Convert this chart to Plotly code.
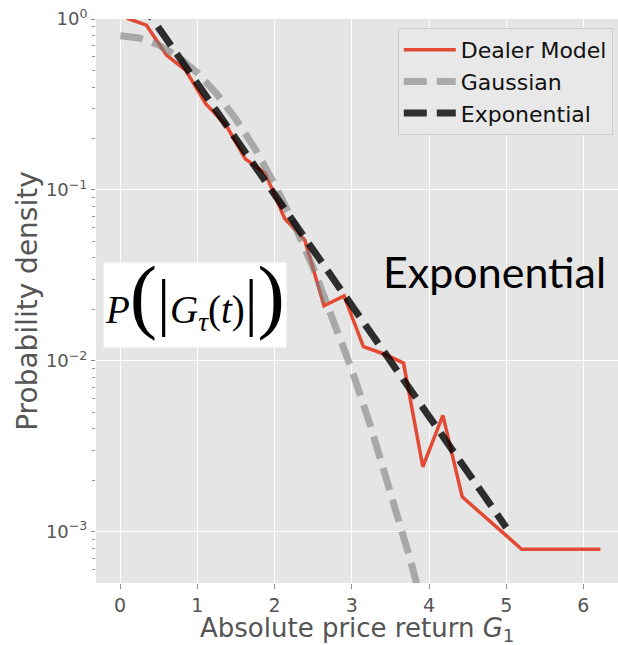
import plotly.graph_objects as go

# Dealer model: histogram of |G_1| (bin centres, densities)
dealer_x = [0.09, 0.34, 0.60, 0.85, 1.11, 1.37, 1.62, 1.88, 2.13, 2.39,
            2.64, 2.90, 3.15, 3.41, 3.67, 3.92, 4.18, 4.43, 5.20, 6.22]
dealer_y = [1.01, 0.92, 0.615, 0.50, 0.318, 0.24, 0.152, 0.125, 0.068, 0.051,
            0.021, 0.024, 0.0121, 0.0110, 0.0097, 0.0024, 0.0048, 0.0016,
            0.00079, 0.00079]

# Gaussian reference curve
gauss_x = [0.0, 0.25, 0.5, 0.75, 1.0, 1.25, 1.5, 1.75, 2.0, 2.25, 2.5,
           2.75, 3.0, 3.25, 3.5, 3.75, 4.0]
gauss_y = [0.798, 0.774, 0.704, 0.602, 0.484, 0.365, 0.259, 0.173, 0.108,
           0.0635, 0.0351, 0.0182, 0.00887, 0.00406, 0.00175, 0.000705,
           0.000268]

# Exponential reference curve
expo_x = [0, 1, 2, 3, 4, 5]
expo_y = [1.87, 0.42, 0.094, 0.0211, 0.00474, 0.00106]

x_ticks = [0, 1, 2, 3, 4, 5, 6]
y_ticks = [1, 0.1, 0.01, 0.001]
y_tick_text = ["10<sup>0</sup>", "10<sup>\u22121</sup>",
               "10<sup>\u22122</sup>", "10<sup>\u22123</sup>"]
y_minor = [m * 10.0 ** e for e in range(-4, 0) for m in range(2, 10)]

fig = go.Figure()
fig.add_trace(go.Scatter(x=dealer_x, y=dealer_y, mode="lines",
                         name="Dealer Model",
                         line=dict(color="#E24A33", width=3.5)))
fig.add_trace(go.Scatter(x=gauss_x, y=gauss_y, mode="lines", name="Gaussian",
                         opacity=0.6,
                         line=dict(color="#808080", width=7,
                                   dash="23px,10px")))
fig.add_trace(go.Scatter(x=expo_x, y=expo_y, mode="lines", name="Exponential",
                         opacity=0.8,
                         line=dict(color="#000000", width=7,
                                   dash="23px,10px")))

fig.update_layout(
    width=618, height=645,
    margin=dict(l=96, r=0, t=19, b=62),
    paper_bgcolor="white", plot_bgcolor="#E5E5E5",
    font=dict(family="DejaVu Sans", color="#555555"),
    legend=dict(x=0.99, y=0.984, xanchor="right", yanchor="top",
                bgcolor="#E8E8E8", bordercolor="#CCCCCC", borderwidth=1,
                font=dict(size=22, color="#111111", family="DejaVu Sans"),
                itemwidth=52, tracegroupgap=0),
)

fig.update_xaxes(
    range=[-0.313, 6.448], tickvals=x_ticks, ticks="outside", ticklen=5,
    tickcolor="#888888", tickfont=dict(size=19, color="#555555"),
    showgrid=True, gridcolor="white", gridwidth=1.2,
    zeroline=False, showline=False,
)
fig.update_yaxes(
    type="log", range=[-3.30, 0], tickvals=y_ticks, ticktext=y_tick_text,
    ticks="outside", ticklen=4, tickcolor="#888888",
    tickfont=dict(size=18, color="#555555"),
    showgrid=True, gridcolor="white", gridwidth=1.2,
    zeroline=False, showline=False,
    minor=dict(tickvals=y_minor, ticks="outside", ticklen=3,
               tickcolor="#999999", showgrid=False),
    title=dict(text="Probability density",
               font=dict(size=28, color="#555555"), standoff=0),
)

# x-axis title
fig.add_annotation(
    xref="paper", yref="paper", x=0.5, y=0, xanchor="center", yanchor="top",
    yshift=-29, borderpad=0, showarrow=False,
    font=dict(family="DejaVu Sans", size=26, color="#555555"),
    text="Absolute price return <i>G</i><sub>1</sub>",
)

# Formula label: white box, then the formula on top of it
fig.add_annotation(
    xref="paper", yref="paper", x=0.1887, y=0.4934,
    xanchor="center", yanchor="middle",
    width=182, height=84, borderpad=0, bgcolor="white", showarrow=False,
    text=" ",
)
fig.add_annotation(
    xref="paper", yref="paper", x=0.1887, y=0.4934,
    xanchor="center", yanchor="middle", yshift=9, showarrow=False,
    font=dict(family="Liberation Serif", size=39, color="black"),
    text=("<i>P</i><span style='font-size:82px'>(</span>"
          "<span style='font-size:64px'>|</span><i>G</i><sub><i>\u03c4</i></sub>"
          "(<i>t</i>)<span style='font-size:64px'>|</span>"
          "<span style='font-size:82px'>)</span>"),
)

# Distribution type label
fig.add_annotation(
    xref="paper", yref="paper", x=0.7634, y=0.553,
    xanchor="center", yanchor="middle", showarrow=False,
    font=dict(family="Lato", size=43, color="black"),
    text="Exponential",
)

fig.write_html("out.html")
